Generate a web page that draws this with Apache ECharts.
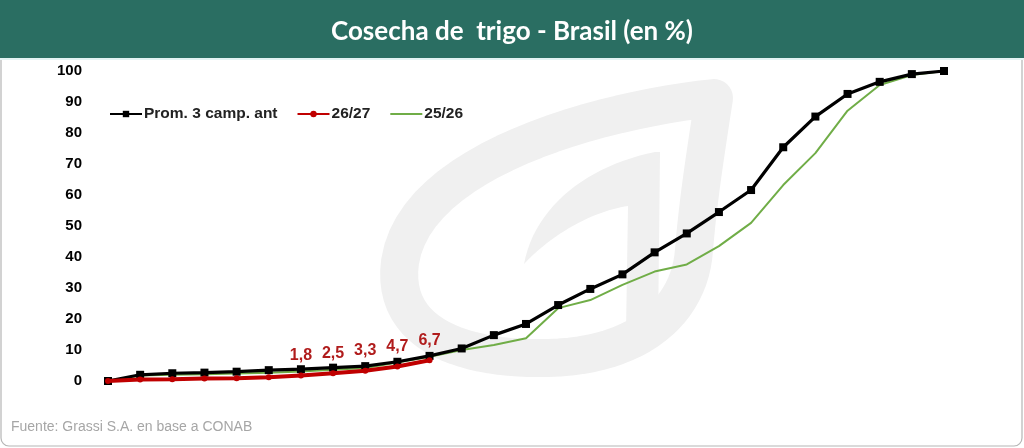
<!DOCTYPE html>
<html>
<head>
<meta charset="utf-8">
<script src="https://cdn.jsdelivr.net/npm/echarts@6/dist/echarts.min.js"></script>
<style>html,body{margin:0;padding:0;background:#fff;}#c{width:1024px;height:448px;}</style>
</head>
<body>
<div id="c"></div>
<script>
var categories = ['S1','S2','S3','S4','S5','S6','S7','S8','S9','S10','S11','S12','S13','S14','S15','S16','S17','S18','S19','S20','S21','S22','S23','S24','S25','S26','S27'];
var prom3 = [0, 2, 2.5, 2.7, 3, 3.5, 3.8, 4.3, 4.8, 6.2, 8.1, 10.5, 14.8, 18.4, 24.5, 29.7, 34.4, 41.5, 47.6, 54.5, 61.6, 75.4, 85.3, 92.6, 96.5, 99, 100];
var c2627 = [0, 0.5, 0.6, 0.8, 0.9, 1.2, 1.8, 2.5, 3.3, 4.7, 6.7];
var c2526 = [0, 1.8, 2.0, 2.2, 2.4, 2.7, 3.1, 3.6, 4.2, 6.0, 7.8, 10, 11.6, 13.8, 23.5, 26.1, 31, 35.3, 37.6, 43.5, 51, 63.2, 73.5, 87.2, 95.5, 98.7, 100];
var yTicks = [0, 10, 20, 30, 40, 50, 60, 70, 80, 90, 100];

// watermark helper: sample cubic bezier segments into polygon points
function cubic(p0, p1, p2, p3, n) {
  var out = [];
  for (var i = 0; i <= n; i++) {
    var t = i / n, u = 1 - t;
    out.push([
      u*u*u*p0[0] + 3*u*u*t*p1[0] + 3*u*t*t*p2[0] + t*t*t*p3[0],
      u*u*u*p0[1] + 3*u*u*t*p1[1] + 3*u*t*t*p2[1] + t*t*t*p3[1]
    ]);
  }
  return out;
}
var ringPts = [].concat(
  cubic([714,98],[600,110],[415,160],[400,262],24),
  cubic([400,262],[390,338],[470,360],[548,358],24),
  cubic([548,358],[640,356],[690,310],[694,250],24),
  cubic([694,250],[698,200],[706,150],[714,98],12)
);
var hookPts = [].concat(
  cubic([655,152],[590,165],[535,205],[524,264],24),
  cubic([524,264],[558,228],[600,210],[628,206],24),
  [[626,332],[658,336],[660,152]]
);
var wm = '#f0f0f0';

var chart = echarts.init(document.getElementById('c'), null, {renderer: 'canvas'});
chart.setOption({
  animation: false,
  backgroundColor: '#ffffff',
  title: {
    text: 'Cosecha de  trigo - Brasil (en %)',
    left: 'center',
    top: 14,
    textStyle: {color: '#ffffff', fontFamily: 'Lato', fontWeight: 'bold', fontSize: 26}
  },
  graphic: [
    {type: 'rect', z: -10, shape: {x: 1, y: 1, width: 1021, height: 445, r: 8}, style: {fill: '#ffffff', stroke: '#b5b5b5', lineWidth: 1.2}},
    {type: 'rect', z: -9, shape: {x: 0, y: 0, width: 1024, height: 58}, style: {fill: '#2a6e62'}},
    {type: 'rect', z: -9, shape: {x: 0, y: 58, width: 1024, height: 2}, style: {fill: '#e3f3f3'}},
    {type: 'polygon', z: -8, shape: {points: ringPts}, style: {fill: 'none', stroke: wm, lineWidth: 38, lineJoin: 'round'}},
    {type: 'polygon', z: -8, shape: {points: hookPts}, style: {fill: wm}},
    {type: 'text', z: 5, left: 11, top: 420, style: {text: 'Fuente: Grassi S.A. en base a CONAB', fill: '#a6a6a6', fontFamily: 'Liberation Sans', fontSize: 14}}
  ],
  legend: {
    left: 104,
    top: 101,
    itemWidth: 32,
    itemHeight: 8,
    itemGap: 19,
    textStyle: {color: '#222', fontFamily: 'Liberation Sans', fontWeight: 'bold', fontSize: 15.5, padding: [0, 0, 0, -3]},
    data: [
      {name: 'Prom. 3 camp. ant'},
      {name: '26/27'},
      {name: '25/26', itemStyle: {opacity: 0}}
    ]
  },
  grid: {left: 108, right: 80, top: 71, bottom: 67, containLabel: false},
  xAxis: {
    type: 'category',
    data: categories,
    boundaryGap: false,
    axisLine: {show: false},
    axisTick: {show: false},
    axisLabel: {show: false},
    splitLine: {show: false}
  },
  yAxis: {
    type: 'value',
    min: yTicks[0],
    max: yTicks[yTicks.length - 1],
    interval: 10,
    axisLine: {show: false},
    axisTick: {show: false},
    splitLine: {show: false},
    axisLabel: {color: '#000', fontFamily: 'Liberation Sans', fontWeight: 'bold', fontSize: 15, margin: 26}
  },
  series: [
    {
      name: '25/26', type: 'line', data: c2526, symbol: 'none', z: 2,
      lineStyle: {color: '#70ad47', width: 2}, itemStyle: {color: '#70ad47'}
    },
    {
      name: 'Prom. 3 camp. ant', type: 'line', data: prom3, symbol: 'rect', symbolSize: 8, z: 3,
      lineStyle: {color: '#000', width: 3.2}, itemStyle: {color: '#000'}
    },
    {
      name: '26/27', type: 'line', data: c2627, symbol: 'circle', symbolSize: 6, z: 4,
      lineStyle: {color: '#c00000', width: 4}, itemStyle: {color: '#c00000'},
      label: {
        show: true, position: 'top', distance: 9,
        color: '#b01c1c', fontFamily: 'Liberation Sans', fontWeight: 'bold', fontSize: 16,
        formatter: function (p) { return p.dataIndex >= 6 ? String(p.value).replace('.', ',') : ''; }
      }
    }
  ]
});
</script>
</body>
</html>
